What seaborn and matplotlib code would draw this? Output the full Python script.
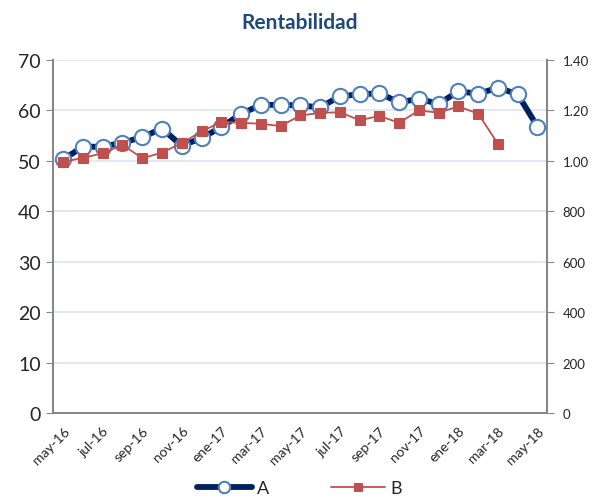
import seaborn as sns
import matplotlib.pyplot as plt
import pandas as pd
import numpy as np

sns.set_style("white")
plt.rcParams["font.family"] = ["Lato", "DejaVu Sans"]

# data
meses = ["may-16", "jun-16", "jul-16", "ago-16", "sep-16", "oct-16", "nov-16", "dic-16",
         "ene-17", "feb-17", "mar-17", "abr-17", "may-17", "jun-17", "jul-17", "ago-17",
         "sep-17", "oct-17", "nov-17", "dic-17", "ene-18", "feb-18", "mar-18", "abr-18",
         "may-18"]
serie_a = [50.3, 52.8, 52.8, 53.6, 54.7, 56.4, 53.0, 54.5, 56.7, 59.3, 61.1, 61.1, 61.0,
           60.6, 62.8, 63.2, 63.4, 61.6, 62.3, 61.3, 63.8, 63.3, 64.5, 63.2, 56.8]
serie_b = [996, 1012, 1030, 1064, 1010, 1033, 1070, 1117, 1154, 1151, 1147, 1138, 1180,
           1190, 1193, 1161, 1178, 1151, 1200, 1191, 1216, 1187, 1068]
left_ticks = [0, 10, 20, 30, 40, 50, 60, 70]
right_ticks = [0, 200, 400, 600, 800, 1000, 1200, 1400]
right_labels = ["0", "200", "400", "600", "800", "1.00", "1.20", "1.40"]

df_a = pd.DataFrame({"pos": np.arange(len(serie_a)), "A": serie_a})
df_b = pd.DataFrame({"pos": np.arange(len(serie_b)), "B": serie_b})

fig = plt.figure(figsize=(5.99, 5.02), dpi=100)
ax = fig.add_axes([0.089, 0.1753, 0.8247, 0.7032])
ax2 = ax.twinx()

sns.lineplot(data=df_a, x="pos", y="A", ax=ax, color="#002060", linewidth=4.2,
             marker="o", markersize=11, markerfacecolor="white",
             markeredgecolor="#4F81BD", markeredgewidth=1.5, label="A", legend=False)
sns.lineplot(data=df_b, x="pos", y="B", ax=ax2, color="#C0504D", linewidth=1.3,
             marker="s", markersize=7, markerfacecolor="#C0504D",
             markeredgecolor="#C0504D", label="B", legend=False)

grey = "#868686"
ax.set_xlim(-0.5, len(meses) - 0.5)
ax.set_ylim(0, 70)
ax2.set_ylim(0, 1400)
ax.set_yticks(left_ticks)
ax.set_yticklabels([str(t) for t in left_ticks], fontsize=14)
ax2.set_yticks(right_ticks)
ax2.set_yticklabels(right_labels, fontsize=9.5)

for t in left_ticks[1:]:
    ax.axhline(t, color="#DCE6F2", linewidth=1.2, zorder=0)

ax.set_xticks(np.arange(0, len(meses), 2))
ax.set_xticklabels(meses[::2], rotation=45, ha="right", rotation_mode="anchor", fontsize=10)
ax.set_xticks(np.arange(-0.5, len(meses), 2), minor=True)
ax.tick_params(axis="x", which="major", length=0, pad=8)
ax.tick_params(axis="x", which="minor", length=4, color=grey, direction="out")
ax.tick_params(axis="y", length=5, color=grey, direction="out", pad=4)
ax2.tick_params(axis="y", length=5, color=grey, direction="out", pad=6)

for a in (ax, ax2):
    a.set_xlabel("")
    a.set_ylabel("")
    a.spines["top"].set_visible(False)
    for s in ("left", "right", "bottom"):
        a.spines[s].set_color(grey)
        a.spines[s].set_linewidth(1.3)

fig.text(0.5, 0.955, "Rentabilidad", ha="center", va="center", fontsize=15,
         fontweight="bold", color="#1F497D")

handles = ax.get_lines()[:1] + ax2.get_lines()[:1]
fig.legend(handles, ["A", "B"], loc="center", bbox_to_anchor=(0.5, 0.025), ncol=2,
           frameon=False, handlelength=3.0, columnspacing=3.4, fontsize=13,
           handletextpad=0.3, markerscale=0.75)

plt.savefig("out.png", dpi=100)
plt.close()
